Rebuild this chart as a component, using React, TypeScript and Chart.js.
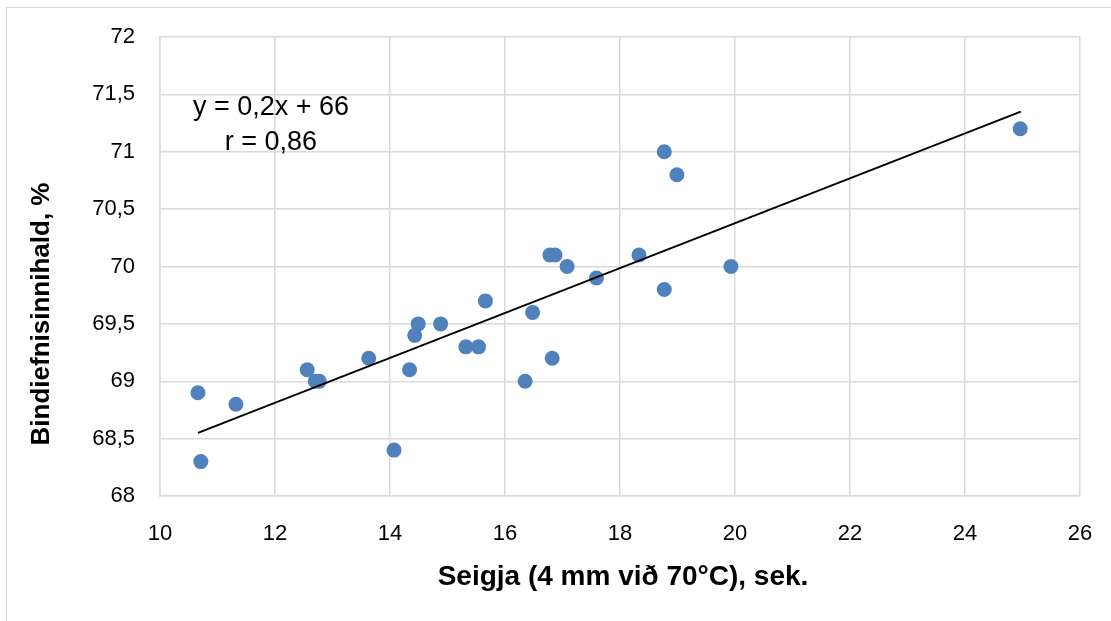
import React, { useEffect, useRef } from "react";
import { Chart, registerables } from "chart.js";

Chart.register(...registerables);

// Seigja (x, sek.) and Bindiefnisinnihald (y, %)
const xValues = [10.66, 10.71, 11.32, 12.56, 12.70, 12.77, 13.63, 14.07, 14.34, 14.43, 14.49, 14.88, 15.32, 15.54, 15.66, 16.35, 16.48, 16.78, 16.87, 16.82, 17.08, 17.59, 18.33, 18.77, 18.77, 18.99, 19.93, 24.96];
const yValues = [68.9, 68.3, 68.8, 69.1, 69.0, 69.0, 69.2, 68.4, 69.1, 69.4, 69.5, 69.5, 69.3, 69.3, 69.7, 69.0, 69.6, 70.1, 70.1, 69.2, 70.0, 69.9, 70.1, 69.8, 71.0, 70.8, 70.0, 71.2];

// Trend line end points
const trendX = [10.66, 24.97];
const trendY = [68.55, 71.35];

const xTicks = [10, 12, 14, 16, 18, 20, 22, 24, 26];
const yTicks = [68, 68.5, 69, 69.5, 70, 70.5, 71, 71.5, 72];

const annotationLines = ["y = 0,2x + 66", "r = 0,86"];
const xTitle = "Seigja (4 mm við 70°C), sek.";
const yTitle = "Bindiefnisinnihald, %";

const FONT = "'Liberation Sans', Arial, sans-serif";

const textPlugin = {
  id: "textPlugin",
  afterDraw(chart: any) {
    const ctx = chart.ctx;
    const xs = chart.scales.x;
    const ys = chart.scales.y;
    ctx.save();
    ctx.fillStyle = "#000";
    ctx.textAlign = "center";
    ctx.textBaseline = "middle";
    ctx.font = `27px ${FONT}`;
    const cx = xs.getPixelForValue(11.93);
    ctx.fillText(annotationLines[0], cx, ys.getPixelForValue(71.385));
    ctx.fillText(annotationLines[1], cx, ys.getPixelForValue(71.08));

    ctx.font = `bold 28px ${FONT}`;
    ctx.fillText(xTitle, (chart.chartArea.left + chart.chartArea.right) / 2 + 3, 569);

    ctx.translate(34, 306);
    ctx.rotate(-Math.PI / 2);
    ctx.font = `bold 26px ${FONT}`;
    ctx.fillText(yTitle, 0, 0);
    ctx.restore();
  },
};

export default function App() {
  const ref = useRef<HTMLCanvasElement | null>(null);

  useEffect(() => {
    if (!ref.current) return;
    const points = xValues.map((x, i) => ({ x, y: yValues[i] }));
    const trend = trendX.map((x, i) => ({ x, y: trendY[i] }));
    const chart = new Chart(ref.current, {
      type: "scatter",
      data: {
        datasets: [
          {
            label: "Trend",
            data: trend,
            showLine: true,
            borderColor: "#000",
            borderWidth: 2,
            pointRadius: 0,
            fill: false,
          },
          {
            label: "Mælingar",
            data: points,
            backgroundColor: "#4F81BD",
            borderColor: "#4F81BD",
            pointRadius: 7.5,
            pointBorderWidth: 0,
          },
        ],
      },
      options: {
        animation: false,
        responsive: true,
        maintainAspectRatio: false,
        layout: { padding: { left: 0, top: 29, right: 31, bottom: 0 } },
        plugins: {
          legend: { display: false },
          tooltip: { enabled: false },
        },
        scales: {
          x: {
            type: "linear",
            min: 10,
            max: 26,
            afterBuildTicks: (s: any) => {
              s.ticks = xTicks.map((v) => ({ value: v }));
            },
            afterFit: (s: any) => {
              s.height = 125;
              s.paddingLeft = 0;
              s.paddingRight = 0;
            },
            ticks: {
              color: "#000",
              font: { family: FONT, size: 22 },
              padding: 25,
              maxRotation: 0,
              callback: (v: any) => String(v),
            },
            grid: { color: "#d9d9d9", lineWidth: 1.5, drawTicks: false },
            border: { color: "#d9d9d9", width: 1.5 },
          },
          y: {
            type: "linear",
            min: 68,
            max: 72,
            afterBuildTicks: (s: any) => {
              s.ticks = yTicks.map((v) => ({ value: v }));
            },
            afterFit: (s: any) => {
              s.width = 152;
              s.paddingTop = 0;
              s.paddingBottom = 0;
            },
            ticks: {
              color: "#000",
              font: { family: FONT, size: 22 },
              padding: 25,
              callback: (v: any) => String(v).replace(".", ","),
            },
            grid: { color: "#d9d9d9", lineWidth: 1.5, drawTicks: false },
            border: { color: "#d9d9d9", width: 1.5 },
          },
        },
      },
      plugins: [textPlugin],
    });
    return () => chart.destroy();
  }, []);

  return (
    <>
      <div
        style={{
          position: "absolute",
          left: 6,
          top: 7,
          width: 1105,
          height: 614,
          borderLeft: "1.5px solid #d9d9d9",
          borderTop: "1.5px solid #d9d9d9",
          boxSizing: "border-box",
        }}
      />
      <div style={{ position: "absolute", left: 8, top: 8, width: 1103, height: 613 }}>
        <canvas ref={ref} />
      </div>
    </>
  );
}
